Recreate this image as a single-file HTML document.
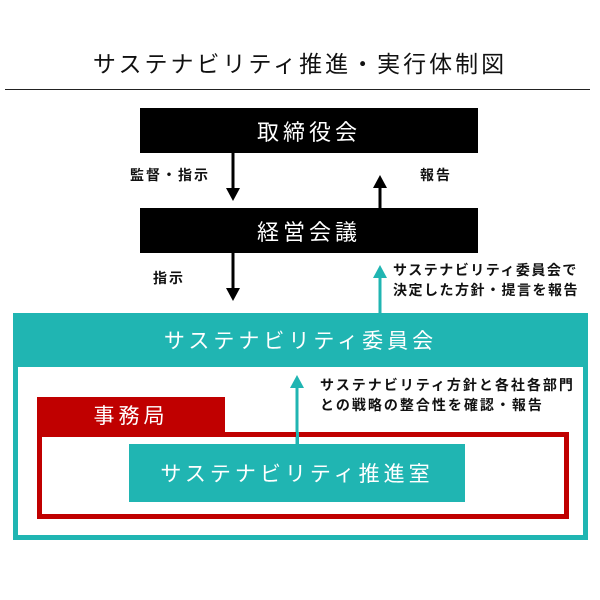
<!DOCTYPE html>
<html><head><meta charset="utf-8"><style>
body{margin:0;width:600px;height:600px;background:#fff;position:relative;overflow:hidden;font-family:"Liberation Sans","Noto Sans CJK JP",sans-serif}
div{position:absolute;box-sizing:border-box}
.c{display:flex;align-items:center;justify-content:center;white-space:nowrap}
.lb{font-weight:bold;font-size:14px;color:#111;line-height:20px;white-space:nowrap;letter-spacing:2px}
</style></head><body>
<div class="c" style="left:0;top:44px;width:600px;height:36px;font-size:23px;color:#111;letter-spacing:3px">サステナビリティ推進・実行体制図</div>
<div style="left:5px;top:89px;width:585px;height:1px;background:#222"></div>

<div class="c" style="left:140px;top:108px;width:338px;height:45px;background:#000;color:#fff;font-size:22px;letter-spacing:4px">取締役会</div>
<div class="c" style="left:140px;top:208px;width:338px;height:45px;background:#000;color:#fff;font-size:22px;letter-spacing:4px">経営会議</div>

<svg style="position:absolute;left:0;top:0" width="600" height="600">
<g fill="#000" stroke="#000" stroke-width="3">
<line x1="233" y1="153" x2="233" y2="190"/><polygon points="226,188 240,188 233,201" stroke="none"/>
<line x1="380" y1="186" x2="380" y2="208"/><polygon points="373,188 387,188 380,175" stroke="none"/>
<line x1="233" y1="253" x2="233" y2="290"/><polygon points="226,288 240,288 233,301" stroke="none"/>
</g>
<g fill="#20b5b2" stroke="#20b5b2" stroke-width="3">
<line x1="380" y1="275" x2="380" y2="313"/><polygon points="373,278 387,278 380,265" stroke="none"/>
</g>
</svg>
<div class="lb" style="left:130px;top:165px">監督・指示</div>
<div class="lb" style="left:420px;top:165px">報告</div>
<div class="lb" style="left:153px;top:268px">指示</div>
<div class="lb" style="left:393px;top:260px;letter-spacing:1.5px">サステナビリティ委員会で<br>決定した方針・提言を報告</div>

<div style="left:13px;top:313px;width:575px;height:227px;border:5px solid #20b5b2;border-top:none"></div>
<div class="c" style="left:13px;top:313px;width:575px;height:54px;background:#20b5b2;color:#fff;font-size:21px;letter-spacing:4px">サステナビリティ委員会</div>
<svg style="position:absolute;left:0;top:0" width="600" height="600">
<line x1="297" y1="385" x2="297" y2="444" stroke="#20b5b2" stroke-width="3"/><polygon points="290,388 304,388 297,375" fill="#20b5b2"/>
</svg>
<div class="lb" style="left:320px;top:375px">サステナビリティ方針と各社各部門<br>との戦略の整合性を確認・報告</div>

<div class="c" style="left:37px;top:397px;width:188px;height:40px;background:#c00000;color:#fff;font-size:21px;letter-spacing:4px;padding-bottom:4px">事務局</div>
<div style="left:37px;top:432px;width:532px;height:87px;border:5px solid #c00000"></div>
<div style="left:296px;top:432px;width:3px;height:12px;background:#20b5b2"></div>
<div class="c" style="left:129px;top:444px;width:336px;height:58px;background:#20b5b2;color:#fff;font-size:21px;letter-spacing:4px">サステナビリティ推進室</div>
</body></html>
